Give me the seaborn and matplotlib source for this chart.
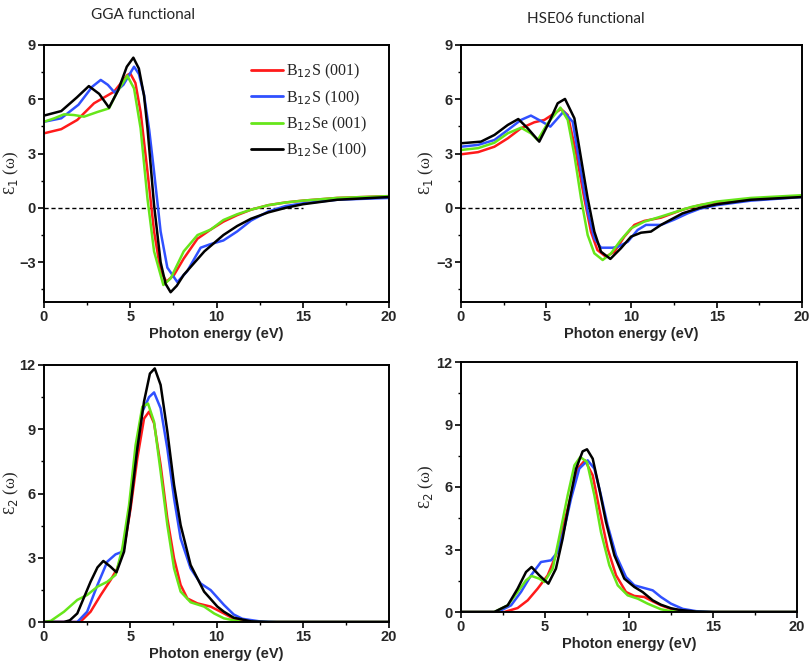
import numpy as np
import pandas as pd
import matplotlib
matplotlib.use("Agg")
import matplotlib.pyplot as plt
from matplotlib.ticker import MultipleLocator
import seaborn as sns

series = ["B$_{12}$S (001)", "B$_{12}$S (100)", "B$_{12}$Se (001)", "B$_{12}$Se (100)"]
colors = ["#ff1a1a", "#3050ff", "#66e61a", "#000000"]

# ---- GGA eps1 ----
gga1_red_x = [0, 1.0, 1.93, 2.9, 4.06, 4.83, 5.0, 5.3, 5.6, 6.0, 6.38, 6.76, 7.1, 7.54, 8.1, 8.9, 9.66, 10.4, 11.2, 12, 13, 14, 15, 17, 20]
gga1_red_y = [4.12, 4.35, 4.86, 5.78, 6.42, 7.34, 7.43, 6.9, 5.3, 2.0, -1.3, -3.5, -4.08, -3.7, -2.8, -1.7, -1.2, -0.76, -0.4, -0.1, 0.15, 0.3, 0.4, 0.55, 0.65]
gga1_blue_x = [0, 1.0, 2.0, 2.8, 3.29, 3.7, 4.1, 4.6, 5.22, 5.5, 5.8, 6.1, 6.38, 6.76, 7.15, 7.73, 8.3, 9.08, 9.66, 10.4, 11.2, 12, 13, 14, 15, 17, 20]
gga1_blue_y = [4.76, 4.95, 5.7, 6.7, 7.07, 6.8, 6.37, 6.8, 7.8, 7.4, 6.24, 4.3, 2.0, -1.3, -3.3, -4.1, -3.5, -2.2, -2.0, -1.8, -1.3, -0.7, -0.2, 0.1, 0.25, 0.45, 0.55]
gga1_green_x = [0, 0.6, 1.16, 1.74, 2.32, 3.1, 3.77, 4.25, 4.83, 5.22, 5.6, 6.0, 6.38, 6.92, 7.34, 8.1, 8.9, 9.66, 10.4, 11.2, 12, 13, 14, 15, 17, 20]
gga1_green_y = [4.76, 4.95, 5.17, 5.13, 5.04, 5.3, 5.5, 6.42, 7.3, 6.6, 4.4, 0.5, -2.4, -4.26, -3.9, -2.4, -1.5, -1.2, -0.67, -0.35, -0.1, 0.15, 0.3, 0.4, 0.55, 0.65]
gga1_black_x = [0, 1.0, 1.9, 2.6, 3.2, 3.77, 4.3, 4.8, 5.18, 5.5, 5.8, 6.0, 6.38, 6.76, 7.05, 7.34, 7.7, 8.1, 9.3, 10.4, 11.2, 12, 13, 14, 15, 17, 20]
gga1_black_y = [5.1, 5.35, 6.1, 6.73, 6.3, 5.54, 6.5, 7.8, 8.3, 7.7, 6.2, 4.4, 0.16, -3.0, -4.2, -4.66, -4.3, -3.7, -2.4, -1.5, -1.0, -0.6, -0.25, 0.0, 0.2, 0.45, 0.6]

# ---- HSE06 eps1 ----
hse1_red_x = [0, 1.0, 1.96, 2.74, 3.52, 4.3, 4.89, 5.47, 5.87, 6.26, 6.74, 7.23, 7.62, 8.0, 8.5, 9.0, 9.58, 10.17, 10.75, 11.73, 13, 14, 15, 17, 20]
hse1_red_y = [2.96, 3.08, 3.38, 3.84, 4.4, 4.73, 4.86, 5.22, 5.46, 5.13, 3.1, 0.53, -1.31, -2.33, -2.7, -2.42, -1.59, -0.94, -0.72, -0.54, -0.1, 0.15, 0.3, 0.5, 0.65]
hse1_blue_x = [0, 1.0, 1.96, 2.74, 3.52, 4.1, 4.69, 5.24, 5.67, 6.02, 6.55, 7.04, 7.43, 7.82, 8.21, 8.9, 9.2, 9.78, 10.36, 10.85, 11.73, 12.5, 13.3, 14, 15, 17, 20]
hse1_blue_y = [3.38, 3.48, 3.75, 4.3, 4.86, 5.1, 4.8, 4.49, 4.95, 5.32, 4.76, 2.0, -0.2, -1.68, -2.2, -2.2, -2.15, -1.87, -1.22, -0.94, -0.94, -0.65, -0.3, -0.05, 0.15, 0.4, 0.6]
hse1_green_x = [0, 1.0, 1.96, 2.74, 3.52, 4.1, 4.5, 5.08, 5.83, 6.26, 6.65, 7.04, 7.43, 7.82, 8.31, 8.8, 9.38, 9.97, 10.75, 11.73, 12.5, 13.5, 15, 17, 20]
hse1_green_y = [3.2, 3.3, 3.6, 4.12, 4.43, 4.12, 3.75, 4.67, 5.54, 4.86, 2.92, 0.53, -1.5, -2.51, -2.88, -2.51, -1.77, -1.13, -0.76, -0.48, -0.25, 0.05, 0.35, 0.55, 0.7]
hse1_black_x = [0, 1.17, 1.96, 2.74, 3.36, 3.91, 4.59, 5.18, 5.67, 6.1, 6.65, 7.04, 7.43, 7.82, 8.21, 8.76, 9.38, 9.97, 10.56, 11.14, 11.73, 13, 14, 15, 17, 20]
hse1_black_y = [3.57, 3.66, 4.03, 4.58, 4.91, 4.4, 3.66, 4.76, 5.78, 6.02, 4.95, 2.74, 0.53, -1.31, -2.42, -2.82, -2.23, -1.59, -1.37, -1.31, -0.94, -0.3, 0.0, 0.2, 0.45, 0.6]

# ---- GGA eps2 ----
gga2_red_x = [0, 2.1, 2.7, 3.29, 3.86, 4.25, 4.64, 5.02, 5.41, 5.8, 6.09, 6.38, 6.76, 7.15, 7.54, 7.92, 8.31, 8.89, 9.66, 10.43, 11, 12, 13, 20]
gga2_red_y = [0, 0, 0.48, 1.26, 1.96, 2.5, 3.44, 5.3, 7.64, 9.5, 9.82, 9.28, 7.33, 4.84, 2.97, 1.73, 1.1, 0.87, 0.72, 0.4, 0.15, 0.02, 0, 0]
gga2_blue_x = [0, 1.93, 2.5, 3.1, 3.67, 4.15, 4.54, 4.93, 5.31, 5.7, 6.09, 6.38, 6.76, 7.15, 7.54, 7.92, 8.5, 9.08, 9.66, 10.43, 11.0, 11.5, 12.5, 13.5, 20]
gga2_blue_y = [0, 0, 0.48, 1.73, 2.82, 3.16, 3.28, 5.0, 7.64, 9.82, 10.5, 10.72, 9.98, 8.1, 5.77, 3.9, 2.5, 1.8, 1.49, 0.8, 0.35, 0.15, 0.03, 0, 0]
gga2_green_x = [0, 0.39, 1.16, 1.93, 2.5, 3.1, 3.67, 4.15, 4.54, 4.93, 5.31, 5.7, 6.03, 6.38, 6.76, 7.15, 7.54, 7.92, 8.5, 9.28, 9.86, 10.43, 11.5, 20]
gga2_green_y = [0, 0.05, 0.48, 1.03, 1.26, 1.65, 1.88, 2.2, 3.44, 5.46, 8.26, 10.05, 10.2, 9.35, 7.02, 4.53, 2.5, 1.42, 0.92, 0.72, 0.4, 0.17, 0, 0]
gga2_black_x = [0, 1.16, 1.5, 1.93, 2.7, 3.1, 3.44, 3.86, 4.2, 4.64, 5.02, 5.41, 5.8, 6.14, 6.42, 6.76, 7.15, 7.54, 7.92, 8.5, 9.28, 10.05, 10.43, 11, 12, 13, 20]
gga2_black_y = [0, 0, 0.08, 0.4, 1.88, 2.55, 2.85, 2.58, 2.32, 3.28, 5.46, 8.1, 10.3, 11.6, 11.84, 11.07, 8.9, 6.4, 4.53, 2.66, 1.42, 0.72, 0.48, 0.2, 0.03, 0, 0]

# ---- HSE06 eps2 ----
hse2_red_x = [0, 2.58, 3.37, 3.97, 4.56, 5.16, 5.65, 6.05, 6.55, 6.94, 7.38, 7.84, 8.23, 8.73, 9.23, 9.82, 10.32, 10.91, 11.41, 11.9, 12.5, 13.5, 14.5, 20]
hse2_red_y = [0, 0, 0.19, 0.56, 1.12, 1.76, 2.72, 4.0, 5.6, 6.88, 7.28, 6.56, 4.96, 3.04, 1.76, 0.96, 0.77, 0.72, 0.51, 0.32, 0.15, 0.02, 0, 0]
hse2_blue_x = [0, 2.18, 2.98, 3.57, 4.17, 4.76, 5.36, 5.75, 6.15, 6.55, 7.04, 7.54, 7.94, 8.33, 8.73, 9.23, 9.82, 10.32, 10.91, 11.41, 11.9, 12.5, 13.2, 14, 15, 20]
hse2_blue_y = [0, 0, 0.32, 0.96, 1.76, 2.4, 2.48, 2.88, 4.0, 5.44, 6.88, 7.28, 6.88, 5.6, 4.16, 2.72, 1.68, 1.28, 1.15, 1.04, 0.72, 0.4, 0.15, 0.04, 0, 0]
hse2_green_x = [0, 1.98, 2.78, 3.37, 3.87, 4.2, 4.66, 4.96, 5.46, 5.95, 6.35, 6.75, 7.1, 7.5, 7.94, 8.33, 8.83, 9.33, 9.92, 10.52, 11.11, 11.9, 12.5, 13.5, 20]
hse2_green_y = [0, 0, 0.32, 0.96, 1.52, 1.73, 1.6, 1.44, 2.08, 4.0, 5.6, 7.04, 7.44, 7.2, 5.6, 3.84, 2.24, 1.28, 0.8, 0.64, 0.4, 0.13, 0.04, 0, 0]
hse2_black_x = [0, 1.98, 2.78, 3.37, 3.87, 4.2, 4.66, 5.2, 5.65, 6.05, 6.45, 6.85, 7.24, 7.5, 7.84, 8.23, 8.63, 9.13, 9.72, 10.32, 10.81, 11.41, 11.9, 12.5, 13, 14, 15, 20]
hse2_black_y = [0, 0, 0.32, 1.12, 1.92, 2.16, 1.76, 1.36, 2.08, 3.52, 5.28, 6.88, 7.71, 7.81, 7.36, 5.92, 4.32, 2.72, 1.6, 1.2, 0.96, 0.56, 0.35, 0.18, 0.1, 0.02, 0, 0]

x_ticks = [0, 5, 10, 15, 20]
eps1_ticks = [-3, 0, 3, 6, 9]
eps2_ticks = [0, 3, 6, 9, 12]


def make_df(xs, ys):
    frames = []
    for name, x, y in zip(series, xs, ys):
        frames.append(pd.DataFrame({"E": x, "v": y, "s": name}))
    return pd.concat(frames, ignore_index=True)


panels = {
    "gga1": make_df([gga1_red_x, gga1_blue_x, gga1_green_x, gga1_black_x],
                    [gga1_red_y, gga1_blue_y, gga1_green_y, gga1_black_y]),
    "hse1": make_df([hse1_red_x, hse1_blue_x, hse1_green_x, hse1_black_x],
                    [hse1_red_y, hse1_blue_y, hse1_green_y, hse1_black_y]),
    "gga2": make_df([gga2_red_x, gga2_blue_x, gga2_green_x, gga2_black_x],
                    [gga2_red_y, gga2_blue_y, gga2_green_y, gga2_black_y]),
    "hse2": make_df([hse2_red_x, hse2_blue_x, hse2_green_x, hse2_black_x],
                    [hse2_red_y, hse2_blue_y, hse2_green_y, hse2_black_y]),
}

sns.set_theme(style="ticks")
plt.rcParams["font.family"] = ["Liberation Sans", "DejaVu Sans"]

W, H = 810, 667
fig = plt.figure(figsize=(W / 100, H / 100), dpi=100)


def px_axes(l, t, r, b):
    return fig.add_axes([l / W, 1 - b / H, (r - l) / W, (b - t) / H])


ax_tl = px_axes(44, 45, 389, 302)
ax_tr = px_axes(461, 45, 802, 302)
ax_bl = px_axes(44, 365, 389, 622)
ax_br = px_axes(461, 362, 797, 612)

pal = dict(zip(series, colors))

for ax, key in [(ax_tl, "gga1"), (ax_tr, "hse1"), (ax_bl, "gga2"), (ax_br, "hse2")]:
    sns.lineplot(data=panels[key], x="E", y="v", hue="s", palette=pal,
                 hue_order=series, estimator=None, sort=False, lw=1.8,
                 legend=False, ax=ax)
    ax.set_xlim(0, 20)
    ax.set_xticks(x_ticks)
    ax.xaxis.set_minor_locator(MultipleLocator(2.5))
    ax.yaxis.set_minor_locator(MultipleLocator(1.5))
    for sp in ax.spines.values():
        sp.set_linewidth(1.4)
        sp.set_color("black")
    ax.tick_params(which="major", direction="out", length=4, width=1.2,
                   labelsize=10.5, pad=2, color="black")
    ax.tick_params(which="minor", direction="out", length=2.5, width=1.0, color="black")
    ax.set_xlabel("Photon energy (eV)", fontsize=10.5, fontweight="bold", labelpad=2)

for ax in (ax_tl, ax_tr):
    ax.set_ylim(-5.2, 9)
    ax.set_yticks(eps1_ticks)
    ax.set_ylabel("Ɛ$_1$ (ω)", family=["Liberation Serif", "DejaVu Serif"], fontsize=12)
for ax in (ax_bl, ax_br):
    ax.set_ylim(0, 12)
    ax.set_yticks(eps2_ticks)
    ax.set_ylabel("Ɛ$_2$ (ω)", family=["Liberation Serif", "DejaVu Serif"], fontsize=12)

ax_tl.yaxis.set_label_coords(-0.068, 0.5)
ax_bl.yaxis.set_label_coords(-0.068, 0.5)
ax_tr.yaxis.set_label_coords(-0.073, 0.5)
ax_br.yaxis.set_label_coords(-0.075, 0.5)

for ax in (ax_tl, ax_tr, ax_bl, ax_br):
    for lab in ax.get_xticklabels() + ax.get_yticklabels():
        lab.set_fontweight("bold")

ax_tl.plot([0, 15], [0, 0], ls=(0, (3, 2)), color="black", lw=1.0, zorder=1)
ax_tr.plot([0, 20], [0, 0], ls=(0, (3, 2)), color="black", lw=1.0, zorder=1)

handles = [plt.Line2D([], [], color=c, lw=2) for c in colors]
ax_tl.legend(handles, series, loc="upper right", bbox_to_anchor=(0.98, 0.99),
             frameon=False, handlelength=2.0, handletextpad=0.2, labelspacing=0.45,
             prop={"family": ["Liberation Serif", "DejaVu Serif"], "size": 11.5})

fig.text(143 / W, 1 - 15 / H, "GGA functional", ha="center", va="center",
         family=["Lato", "DejaVu Sans"], fontsize=11)
fig.text(586 / W, 1 - 19 / H, "HSE06 functional", ha="center", va="center",
         family=["Lato", "DejaVu Sans"], fontsize=11)

fig.savefig("out.png", dpi=100)
